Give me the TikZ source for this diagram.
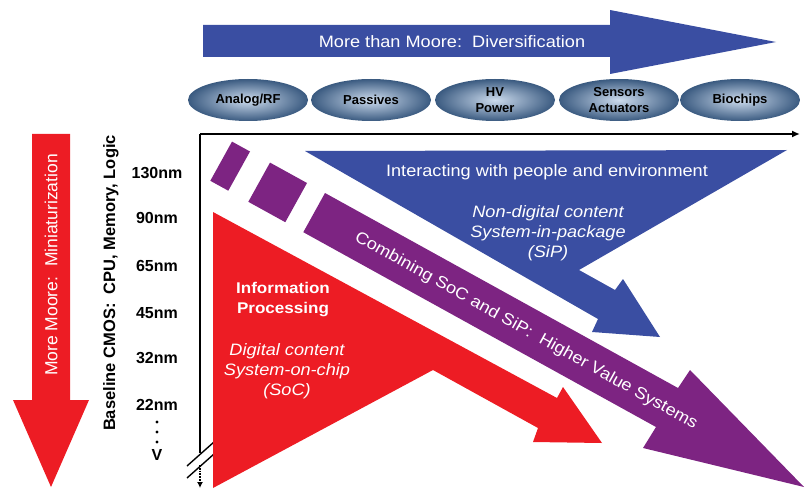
\documentclass[tikz,border=0pt]{standalone}
\usepackage{fontspec}
\setmainfont{Liberation Sans}
\newfontfamily\widefont{Liberation Sans}[FakeStretch=1.1]
\usetikzlibrary{arrows.meta,shapes.geometric}

\definecolor{mmblue}{RGB}{58,78,162}
\definecolor{mmred}{RGB}{237,28,36}
\definecolor{mmpurple}{RGB}{125,36,130}
\definecolor{elldark}{RGB}{58,90,128}
\definecolor{elllight}{RGB}{205,220,238}

\tikzset{
  tech/.style={ellipse, minimum width=120, minimum height=42, inner sep=0,
    shading=radial, inner color=elllight, outer color=elldark,
    font=\fontsize{13}{15.5}\selectfont\bfseries, align=center, text=black},
  whitetxt/.style={text=white, align=center, inner sep=0},
  widetxt/.style={whitetxt, font=\widefont\fontsize{16.5}{20}\selectfont},
  wideital/.style={whitetxt, font=\widefont\fontsize{16.5}{20}\selectfont\itshape},
  widebold/.style={whitetxt, font=\widefont\fontsize{15.5}{20}\selectfont\bfseries},
  nmlabel/.style={inner sep=0, font=\fontsize{16}{18}\selectfont\bfseries},
  axisline/.style={line width=1.8, black},
}

\begin{document}
\begin{tikzpicture}[x=1pt, y=-1pt]
\useasboundingbox (0,0) rectangle (805,489);

% "More than Moore" arrow
\fill[mmblue] (203,25) -- (610,25) -- (610,10) -- (776,42) -- (610,74)
  -- (610,57) -- (203,57) -- cycle;
\node[widetxt] (mtm) at (452,42) {More than Moore:\ \ Diversification};

% application domains
\node[tech] (analog)  at (248,100) {Analog/RF};
\node[tech] (passive) at (371,100) {Passives};
\node[tech] (hv)      at (495,100) {HV\\Power};
\node[tech] (sensor)  at (619,100) {Sensors\\Actuators};
\node[tech] (bio)     at (740,100) {Biochips};

% "More Moore" arrow
\fill[mmred] (32,134) -- (70,134) -- (70,400) -- (89,400) -- (51,487)
  -- (13,400) -- (32,400) -- cycle;
\node[whitetxt, rotate=90, font=\fontsize{17.5}{20}\selectfont] (mm)
  at (51,265) {More Moore:\ \ Miniaturization};

% baseline CMOS scale
\node[inner sep=0, rotate=90, font=\fontsize{16.5}{20}\selectfont\bfseries] (base)
  at (111,283) {Baseline CMOS:\ \ CPU, Memory, Logic};
\node[nmlabel] (n130) at (157,173) {130nm};
\node[nmlabel] (n90)  at (157,218) {90nm};
\node[nmlabel] (n65)  at (157,266) {65nm};
\node[nmlabel] (n45)  at (157,313) {45nm};
\node[nmlabel] (n32)  at (157,358) {32nm};
\node[nmlabel] (n22)  at (157,405) {22nm};
\fill (157,422) circle (1.7) (157,432) circle (1.7) (157,442) circle (1.7);
\node[nmlabel] (vmark) at (157,455) {V};

% axes with break
\coordinate (origin) at (200,134);
\coordinate (xend) at (800,134);
\coordinate (ybreak) at (200,453);
\coordinate (ydots) at (200,465);
\coordinate (yend) at (200,488);
\draw[axisline, -{Latex[length=8,width=7]}] (origin) -- (xend);
\draw[axisline] (origin) -- (ybreak);
\draw[line width=1.8, densely dotted, -{Latex[length=6,width=6]}] (ydots) -- (yend);
\draw[line width=1.4] (187,466) -- (214,442);
\draw[line width=1.4] (187,478) -- (214,454);

% SiP region
\fill[mmblue] (305,151) -- (787,150) -- (579,270) -- (615,290) -- (623,279)
  -- (660,337) -- (592,332) -- (598,319) -- cycle;
\node[widetxt] (inter) at (547,172) {Interacting with people and environment};
\node[wideital] (sip) at (548,233) {Non-digital content\\System-in-package\\(SiP)};

% combined SoC + SiP band
\fill[mmpurple] (232,141.6) -- (250,151.5) -- (228.3,190.7) -- (210.3,180.8) -- cycle;
\fill[mmpurple] (270,162.6) -- (307,183) -- (285.3,222.2) -- (248.3,201.8) -- cycle;
\fill[mmpurple] (325,193) -- (678,388) -- (690,370) -- (804,487) -- (643,448)
  -- (656,427) -- (303.3,232.2) -- cycle;
\node[whitetxt, rotate=-29, font=\widefont\fontsize{16.5}{20}\selectfont] (comb)
  at (526,331) {Combining SoC and SiP:\ \ Higher Value Systems};

% SoC region
\fill[mmred] (213,212) -- (557,398) -- (563,387) -- (602,443) -- (533,442)
  -- (538,428) -- (433,370) -- (213,488) -- cycle;
\node[widebold] (info) at (283,300) {Information\\Processing};
\node[wideital] (soc) at (287,371) {Digital content\\System-on-chip\\(SoC)};
\end{tikzpicture}
\end{document}
